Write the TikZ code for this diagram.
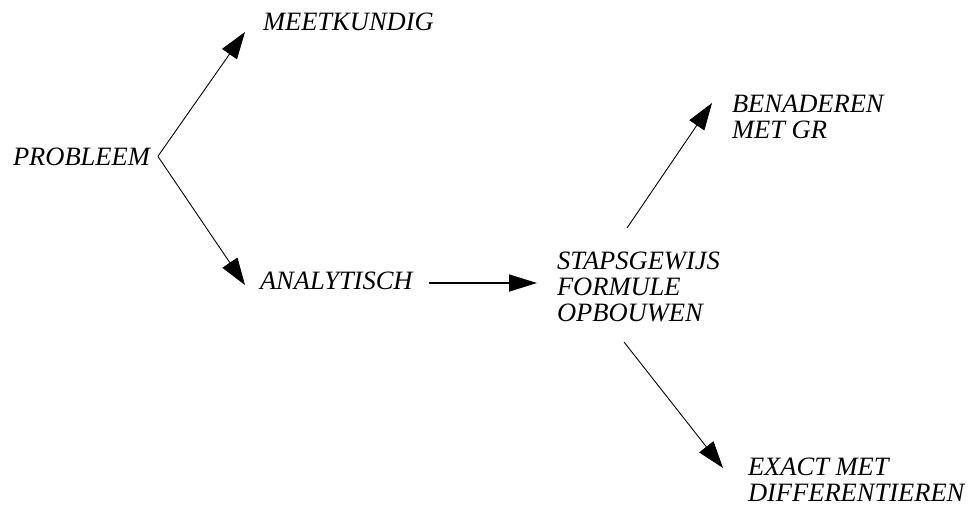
\documentclass[tikz,border=0pt]{standalone}
\usepackage{fontspec}
\setmainfont{Liberation Serif}
\usetikzlibrary{arrows.meta}
\tikzset{
  lbl/.style={inner sep=0pt, outer sep=0pt, font=\fontsize{26.5}{26}\selectfont\itshape, align=left},
  conn/.style={line width=0.9pt, -{Triangle[length=27pt,width=18pt]}},
  thickconn/.style={line width=1.8pt, -{Triangle[length=28pt,width=17pt]}}
}
\begin{document}
\begin{tikzpicture}[x=1pt,y=-1pt]
\useasboundingbox (0,0) rectangle (971,504);
\node[lbl, anchor=base west] (prob) at (13,165) {PROBLEEM};
\node[lbl, anchor=base west] (meet) at (263,30) {MEETKUNDIG};
\node[lbl, anchor=base west] (ana) at (260,289) {ANALYTISCH};
\node[lbl, anchor=north west] (stap) at (557,252) {STAPSGEWIJS\\FORMULE\\OPBOUWEN};
\node[lbl, anchor=north west] (ben) at (732,95) {BENADEREN\\MET GR};
\node[lbl, anchor=north west] (exact) at (748,458) {EXACT MET\\DIFFERENTIEREN};
\draw[conn] ([shift={(8,0)}]prob.east) -- ([shift={(-18,2)}]meet.base west);
\draw[conn] ([shift={(8,0)}]prob.east) -- ([shift={(-15,-4)}]ana.base west);
\draw[thickconn] ([shift={(169,-6)}]ana.base west) -- ([shift={(-20,31)}]stap.north west);
\draw[conn] ([shift={(70,-24)}]stap.north west) -- ([shift={(-20,8)}]ben.north west);
\draw[conn] ([shift={(67,90)}]stap.north west) -- ([shift={(-25,10)}]exact.north west);
\end{tikzpicture}
\end{document}
